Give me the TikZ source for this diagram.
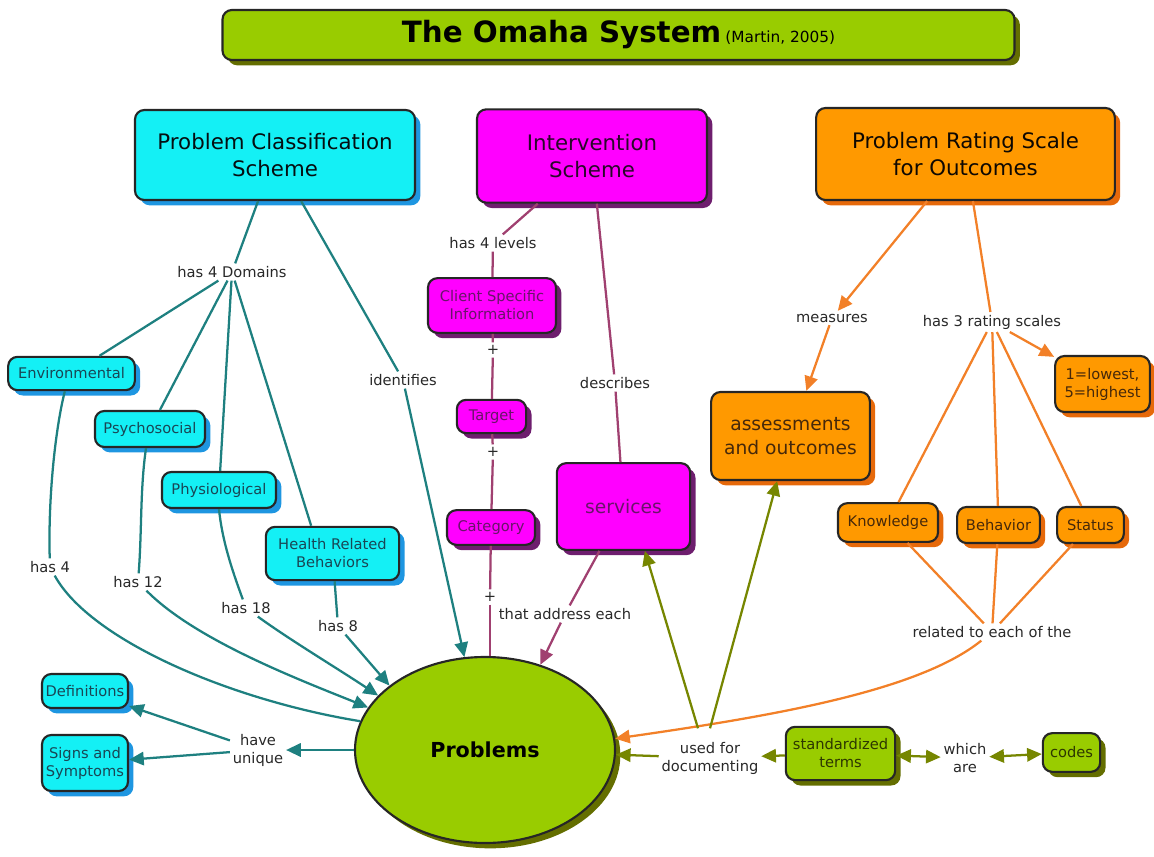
\documentclass[tikz,border=0pt]{standalone}
\usepackage{fontspec}
\setmainfont{DejaVu Sans}
\usetikzlibrary{arrows.meta,shapes.geometric,shadows}
\definecolor{cyfill}{RGB}{20,240,245}
\definecolor{cyshadow}{RGB}{30,150,225}
\definecolor{cytext}{RGB}{25,70,85}
\definecolor{mgfill}{RGB}{255,0,255}
\definecolor{mgshadow}{RGB}{110,30,110}
\definecolor{mgtext}{RGB}{105,20,105}
\definecolor{orfill}{RGB}{255,153,0}
\definecolor{orshadow}{RGB}{230,105,10}
\definecolor{ortext}{RGB}{70,40,10}
\definecolor{grfill}{RGB}{153,204,0}
\definecolor{grshadow}{RGB}{100,110,0}
\definecolor{grtext}{RGB}{45,55,0}
\definecolor{lbltext}{RGB}{40,40,40}
\definecolor{tealc}{RGB}{30,128,128}
\definecolor{purpc}{RGB}{160,64,112}
\definecolor{orc}{RGB}{242,128,40}
\definecolor{olc}{RGB}{118,134,0}
\begin{document}
\begin{tikzpicture}[x=0.75pt,y=-0.75pt,
  box/.style={draw=black!85, line width=1.6pt, rounded corners=7pt, align=center, inner sep=2pt},
  cybox/.style={box, fill=cyfill, text=cytext, drop shadow={shadow xshift=4pt, shadow yshift=-4pt, fill=cyshadow, opacity=1}},
  mgbox/.style={box, fill=mgfill, text=mgtext, drop shadow={shadow xshift=4pt, shadow yshift=-4pt, fill=mgshadow, opacity=1}},
  orbox/.style={box, fill=orfill, text=ortext, drop shadow={shadow xshift=4pt, shadow yshift=-4pt, fill=orshadow, opacity=1}},
  grbox/.style={box, fill=grfill, text=grtext, drop shadow={shadow xshift=4pt, shadow yshift=-4pt, fill=grshadow, opacity=1}},
  bigf/.style={font=\fontsize{16}{20}\selectfont},
  midf/.style={font=\fontsize{14}{18}\selectfont},
  smf/.style={font=\fontsize{11}{13.5}\selectfont},
  lbl/.style={smf, text=lbltext, align=center, inner sep=2pt},
  tline/.style={draw=tealc, line width=1.7pt},
  pline/.style={draw=purpc, line width=1.7pt},
  oline/.style={draw=orc, line width=1.7pt},
  gline/.style={draw=olc, line width=1.7pt},
  arr/.style={-{Triangle[length=11pt,width=10pt]}},
  darr/.style={{Triangle[length=11pt,width=10pt]}-{Triangle[length=11pt,width=10pt]}}
]
\useasboundingbox (0,0) rectangle (1154,857);

% title
\node[grbox, text=black, minimum width=594pt, minimum height=37.5pt] (title) at (618.5,35)
  {{\fontsize{22}{24}\selectfont\bfseries The Omaha System} {\fontsize{11.5}{12}\selectfont (Martin, 2005)}};

% main boxes
\node[cybox, bigf, text=black!80!cytext, minimum width=210pt, minimum height=67.5pt] (pcs) at (275,155) {Problem Classification\\Scheme};
\node[mgbox, bigf, text=black!60!mgtext, minimum width=172.5pt, minimum height=70pt] (is) at (592,156) {Intervention\\Scheme};
\node[orbox, bigf, text=black!80!ortext, minimum width=224pt, minimum height=69pt] (prs) at (965.5,154) {Problem Rating Scale\\for Outcomes};

% cyan domain boxes
\node[cybox, smf, minimum width=95pt, minimum height=25pt] (env) at (71.5,373.5) {Environmental};
\node[cybox, smf, minimum width=82.5pt, minimum height=27pt] (psy) at (150,429) {Psychosocial};
\node[cybox, smf, minimum width=85.5pt, minimum height=27pt] (phys) at (219,490) {Physiological};
\node[cybox, smf, minimum width=100pt, minimum height=40pt] (hrb) at (332.5,553.5) {Health Related\\Behaviors};
\node[cybox, smf, minimum width=64.5pt, minimum height=25.5pt] (def) at (85,691) {Definitions};
\node[cybox, smf, minimum width=64.5pt, minimum height=42pt] (signs) at (85,763) {Signs and\\Symptoms};

% magenta boxes
\node[mgbox, smf, minimum width=96pt, minimum height=41pt] (csi) at (492,305.5) {Client Specific\\Information};
\node[mgbox, smf, minimum width=52pt, minimum height=25pt] (tgt) at (491.5,416.5) {Target};
\node[mgbox, smf, minimum width=66pt, minimum height=26pt] (cat) at (491,527.5) {Category};
\node[mgbox, midf, minimum width=100pt, minimum height=65pt] (srv) at (623.5,506.5) {services};

% orange boxes
\node[orbox, midf, minimum width=119pt, minimum height=66pt] (ao) at (790.5,436) {assessments\\and outcomes};
\node[orbox, smf, minimum width=71pt, minimum height=42pt] (low) at (1102.5,384) {1=lowest,\\5=highest};
\node[orbox, smf, minimum width=75pt, minimum height=29pt] (kn) at (888,522.5) {Knowledge};
\node[orbox, smf, minimum width=62pt, minimum height=27pt] (beh) at (998.5,525) {Behavior};
\node[orbox, smf, minimum width=50pt, minimum height=27pt] (st) at (1090.5,525) {Status};

% green boxes
\node[grbox, smf, minimum width=82pt, minimum height=40pt] (stt) at (840.5,753.5) {standardized\\terms};
\node[grbox, smf, minimum width=43pt, minimum height=29pt] (codes) at (1071.5,752.5) {codes};
\node[ellipse, draw=black!85, line width=1.6pt, fill=grfill, text=black, inner sep=0pt,
  minimum width=195pt, minimum height=139.5pt,
  drop shadow={shadow xshift=4pt, shadow yshift=-4pt, fill=grshadow, opacity=1},
  font=\fontsize{15.5}{18}\selectfont\bfseries] (prob) at (485,750) {Problems};

% link labels
\node[lbl] (dom) at (232,272) {has 4 Domains};
\node[lbl] (ident) at (403,380) {identifies};
\node[lbl] (h4) at (50,567) {has 4};
\node[lbl] (h12) at (138,582) {has 12};
\node[lbl] (h18) at (246,608) {has 18};
\node[lbl] (h8) at (338,626) {has 8};
\node[lbl] (hu) at (258,750) {have\\unique};
\node[lbl] (h4l) at (493,243) {has 4 levels};
\node[lbl] (p1) at (493,350) {+};
\node[lbl] (p2) at (493,452) {+};
\node[lbl] (p3) at (490,597) {+};
\node[lbl] (desc) at (615,383) {describes};
\node[lbl] (tae) at (565,614) {that address each};
\node[lbl] (meas) at (832,318) {measures};
\node[lbl] (h3) at (992,322) {has 3 rating scales};
\node[lbl] (rel) at (992,632) {related to each of the};
\node[lbl] (ufd) at (710,758) {used for\\documenting};
\node[lbl] (wa) at (965,758) {which\\are};

% teal connectors
\draw[tline] (pcs) -- (dom);
\draw[tline] (pcs) -- (ident);
\draw[tline,arr] (ident) -- (prob);
\draw[tline] (dom) -- (env);
\draw[tline] (dom) -- (psy);
\draw[tline] (dom) -- (phys);
\draw[tline] (dom) -- ([xshift=-16pt]hrb.north);
\draw[tline] ([xshift=-5pt]env.south) .. controls (55,430) and (48,500) .. (h4);
\draw[tline] (h4) .. controls (90,640) and (230,700) .. (prob.167);
\draw[tline] ([xshift=-3pt]psy.south) .. controls (140,490) and (142,530) .. (h12);
\draw[tline,arr] (h12) .. controls (195,640) and (300,680) .. (prob.160);
\draw[tline] (phys.south) .. controls (222,540) and (232,570) .. (h18);
\draw[tline,arr] (h18) .. controls (290,640) and (340,670) .. (prob.153);
\draw[tline] (hrb) -- (h8);
\draw[tline,arr] (h8) -- (prob.146);
\draw[tline,arr] (prob.180) -- (hu);
\draw[tline,arr] (hu) -- (def);
\draw[tline,arr] (hu) -- (signs);

% purple connectors
\draw[pline] (is) -- (h4l);
\draw[pline] (h4l) -- (csi);
\draw[pline] (csi) -- (p1);
\draw[pline] (p1) -- (tgt);
\draw[pline] (tgt) -- (p2);
\draw[pline] (p2) -- (cat);
\draw[pline] (cat) -- (p3);
\draw[pline] (p3) -- (p3 |- prob.north);
\draw[pline] (is) -- (desc);
\draw[pline] (desc) -- (srv);
\draw[pline] ([xshift=-18pt]srv.south) -- (tae);
\draw[pline,arr] (tae) -- (prob.57);

% orange connectors
\draw[oline,arr] (prs) -- (meas);
\draw[oline,arr] (meas) -- (ao);
\draw[oline] (prs) -- (h3);
\draw[oline,arr] (h3) -- (low);
\draw[oline] (h3) -- (kn);
\draw[oline] (h3) -- (beh);
\draw[oline] (h3) -- (st);
\draw[oline] (kn) -- (rel);
\draw[oline] (beh) -- (rel);
\draw[oline] (st) -- (rel);
\draw[oline,arr] (rel) .. controls (920,690) and (780,715) .. (prob.5);

% olive connectors
\draw[gline,arr] (stt) -- (ufd);
\draw[gline,arr] (ufd) -- (prob);
\draw[gline,arr] ([xshift=-9pt,yshift=8pt]ufd.north) -- ([xshift=16pt]srv.south);
\draw[gline,arr] ([xshift=0pt,yshift=8pt]ufd.north) -- ([xshift=-10pt]ao.south);
\draw[gline,darr] (stt) -- (wa);
\draw[gline,darr] (wa) -- (codes);
\end{tikzpicture}
\end{document}
